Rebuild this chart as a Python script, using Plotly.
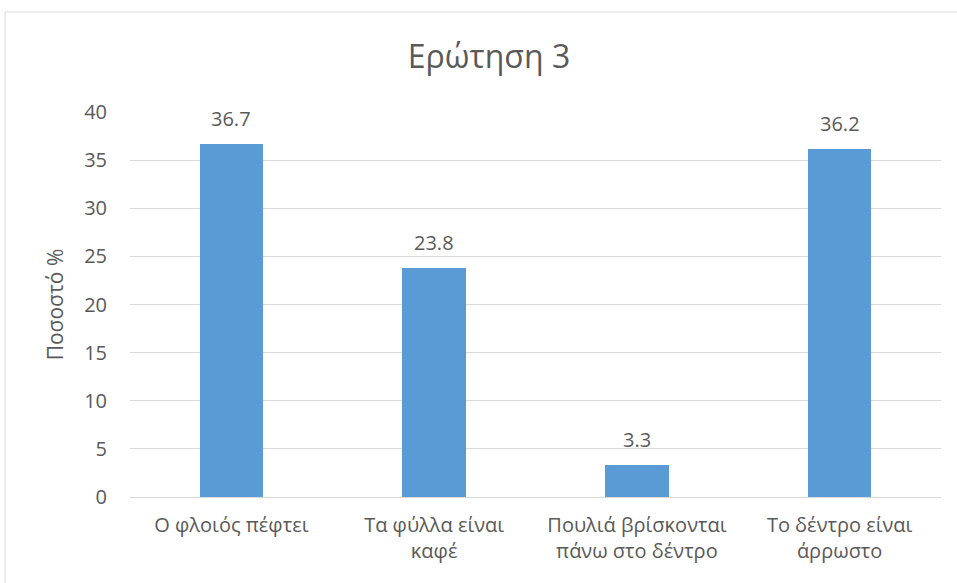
import plotly.graph_objects as go

categories = [
    "Ο φλοιός πέφτει",
    "Τα φύλλα είναι καφέ",
    "Πουλιά βρίσκονται πάνω στο δέντρο",
    "Το δέντρο είναι άρρωστο",
]
tick_labels = [
    "Ο φλοιός πέφτει",
    "Τα φύλλα είναι<br>καφέ",
    "Πουλιά βρίσκονται<br>πάνω στο δέντρο",
    "Το δέντρο είναι<br>άρρωστο",
]
values = [36.7, 23.8, 3.3, 36.2]
y_ticks = [0, 5, 10, 15, 20, 25, 30, 35, 40]

FONT = "Open Sans, DejaVu Sans, sans-serif"
TEXT = "#595959"
GRID = "#D9D9D9"
BAR = "#5B9BD5"

W, H = 957, 583
L, R, T, B = 130, 16, 112, 86

fig = go.Figure(
    go.Bar(
        x=categories,
        y=values,
        marker=dict(color=BAR, line=dict(width=0)),
        width=0.313,
        hoverinfo="x+y",
    )
)

# value labels above each bar
for c, v in zip(categories, values):
    fig.add_annotation(
        x=c, y=v, text=f"{v:.1f}", showarrow=False,
        yanchor="bottom", yshift=10,
        font=dict(family=FONT, size=20, color=TEXT),
    )

# chart-area outline
pw, ph = W - L - R, H - T - B
fig.add_shape(
    type="rect", xref="paper", yref="paper",
    x0=(5 - L) / pw, x1=(975 - L) / pw,
    y0=-(600 - (H - B)) / ph, y1=((H - B) - 12) / ph,
    line=dict(color=GRID, width=1), fillcolor="rgba(0,0,0,0)",
    layer="below",
)

fig.update_layout(
    width=W, height=H,
    margin=dict(l=L, r=R, t=T, b=B),
    paper_bgcolor="white", plot_bgcolor="white",
    showlegend=False,
    title=dict(
        text="Ερώτηση 3",
        x=489 / W, xref="container", xanchor="center",
        y=1 - 57 / H, yref="container", yanchor="middle",
        font=dict(family=FONT, size=32, color=TEXT),
    ),
    font=dict(family=FONT, color=TEXT),
    bargap=0,
)
fig.update_xaxes(
    tickvals=categories, ticktext=tick_labels,
    tickfont=dict(family=FONT, size=20, color=TEXT),
    showgrid=False, showline=False, zeroline=False,
    ticks="", ticklabelstandoff=14,
)
fig.update_yaxes(
    range=[0, 40], tickvals=y_ticks,
    tickfont=dict(family=FONT, size=20, color=TEXT),
    showgrid=True, gridcolor=GRID, gridwidth=1,
    zeroline=True, zerolinecolor=GRID, zerolinewidth=1,
    showline=False, ticks="", ticklabelstandoff=22,
    title=dict(text="Ποσοστό %", standoff=14,
               font=dict(family=FONT, size=21, color=TEXT)),
)

fig.write_html("out.html")
